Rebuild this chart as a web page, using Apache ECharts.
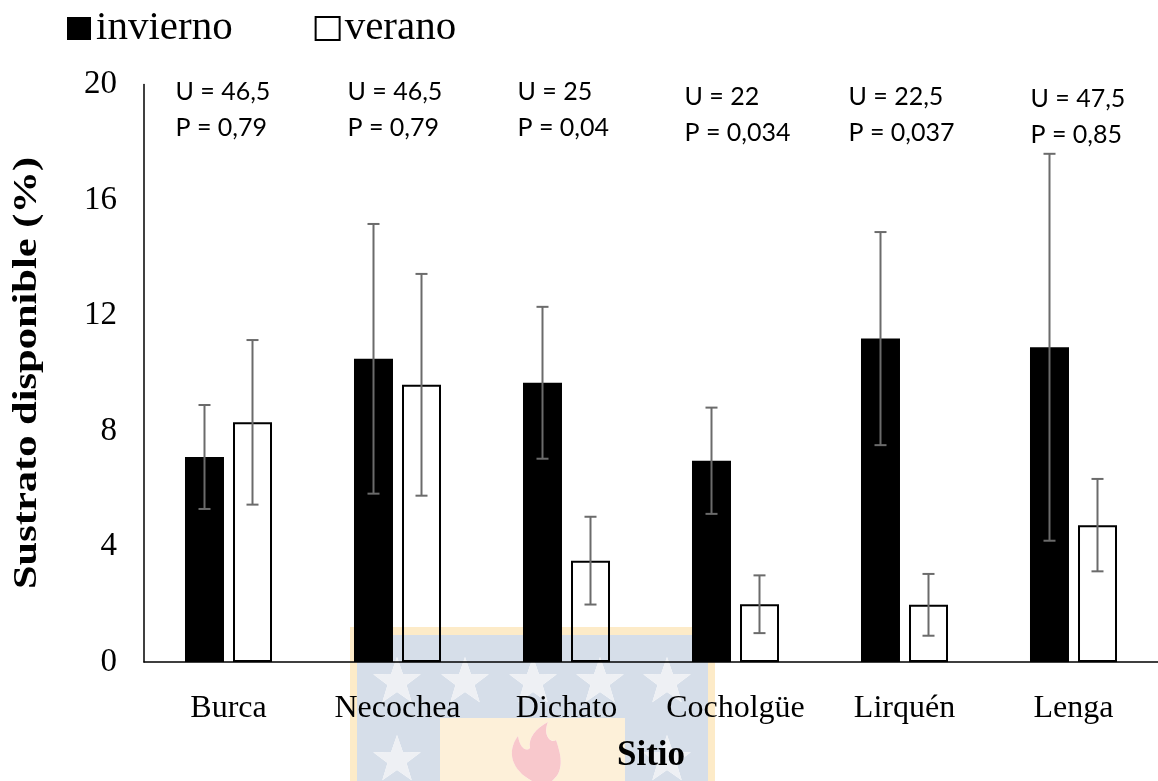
<!DOCTYPE html>
<html>
<head>
<meta charset="utf-8">
<script src="https://cdn.jsdelivr.net/npm/echarts@6/dist/echarts.min.js"></script>
<style>
  html, body { margin: 0; padding: 0; background: #fff; }
  #chart { width: 1158px; height: 781px; }
</style>
</head>
<body>
<div id="chart"></div>
<script>
// Sites and available substrate (%) per season: mean and error
const sites = ['Burca', 'Necochea', 'Dichato', 'Cocholgüe', 'Lirquén', 'Lenga'];
const winterMean = [7.1, 10.5, 9.67, 6.97, 11.2, 10.9];
const winterErr  = [1.8, 4.67, 2.63, 1.84, 3.69, 6.7];
const summerMean = [8.3, 9.6, 3.51, 2.0, 1.98, 4.74];
const summerErr  = [2.85, 3.84, 1.52, 1.0, 1.07, 1.6];

// Mann-Whitney results per site
const uValues = ['46,5', '46,5', '25', '22', '22,5', '47,5'];
const pValues = ['0,79', '0,79', '0,04', '0,034', '0,037', '0,85'];

// Y axis ticks
const yTicks = [0, 4, 8, 12, 16, 20];

// Layout constants
const BAR_W = 39;
const BAR_GAP = 9;
const HALF_STEP = (BAR_W + BAR_GAP) / 2;
const noteNudge = [[-53, 0], [-50, 0], [-49, 0], [-51, 5], [-56, 5], [-43, 7]];
const SERIF = '"Liberation Serif", "Times New Roman", serif';

const yMin = yTicks[0];
const yMax = yTicks[yTicks.length - 1];
const yStep = yTicks[1] - yTicks[0];

function errorBarSeries(means, errs, dx) {
  return {
    type: 'custom',
    z: 5,
    silent: true,
    data: means.map((m, i) => [i, m, errs[i]]),
    encode: { x: 0, y: 1 },
    renderItem: function (params, api) {
      const i = api.value(0), m = api.value(1), e = api.value(2);
      const top = api.coord([i, m + e]);
      const bot = api.coord([i, m - e]);
      const x = top[0] + dx;
      const st = { stroke: '#6b6b6b', lineWidth: 2 };
      return {
        type: 'group',
        children: [
          { type: 'line', shape: { x1: x, y1: top[1], x2: x, y2: bot[1] }, style: st },
          { type: 'line', shape: { x1: x - 6, y1: top[1], x2: x + 6, y2: top[1] }, style: st },
          { type: 'line', shape: { x1: x - 6, y1: bot[1], x2: x + 6, y2: bot[1] }, style: st }
        ]
      };
    }
  };
}

// Five-pointed star path (clockwise or reversed winding)
function starPath(cx, cy, r, reverse) {
  const pts = [];
  for (let k = 0; k < 10; k++) {
    const rr = k % 2 === 0 ? r : r * 0.4;
    const a = -Math.PI / 2 + k * Math.PI / 5;
    pts.push([cx + rr * Math.cos(a), cy + rr * Math.sin(a)]);
  }
  if (reverse) pts.reverse();
  return 'M' + pts.map(p => p[0].toFixed(1) + ' ' + p[1].toFixed(1)).join(' L') + ' Z';
}
function rectPath(x0, y0, x1, y1, reverse) {
  return reverse
    ? `M${x0} ${y0} L${x0} ${y1} L${x1} ${y1} L${x1} ${y0} Z`
    : `M${x0} ${y0} L${x1} ${y0} L${x1} ${y1} L${x0} ${y1} Z`;
}
const flameCW = 'M532 781 C512 770 506 752 518 736 C520 748 526 752 530 748 C528 738 536 728 548 722 C542 736 552 744 556 740 C560 752 566 770 552 781 Z';
const flameCCW = 'M532 781 L552 781 C566 770 560 752 556 740 C552 744 542 736 548 722 C536 728 528 738 530 748 C526 752 520 748 518 736 C506 752 512 770 532 781 Z';

const starSpots = [[397, 682], [465, 682], [533, 682], [600, 682], [667, 682], [397, 760], [667, 760]];
const blueArea = rectPath(357, 635, 708, 790, false) +
  starSpots.map(s => starPath(s[0], s[1], 25, true)).join(' ') +
  rectPath(440, 718, 625, 790, true);

// Faint crest printed behind the lower middle of the figure
const crestLayers = [
  { d: rectPath(350, 627, 715, 790, false) + rectPath(357, 635, 708, 790, true), fill: '#fdebc8' },
  { d: blueArea, fill: '#d6dee9' },
  { d: starSpots.map(s => starPath(s[0], s[1], 25, false)).join(' '), fill: '#eef0f4' },
  { d: rectPath(440, 718, 625, 790, false) + flameCCW, fill: '#fdf0d9' },
  { d: flameCW, fill: '#f8c8cc' }
];

const chart = echarts.init(document.getElementById('chart'), null, { renderer: 'canvas' });

chart.setOption({
  animation: false,
  grid: { left: 144, right: 0, top: 84.5, bottom: 119 },
  legend: {
    left: 62,
    top: 3,
    itemWidth: 24,
    itemHeight: 23,
    itemGap: 82,
    icon: 'rect',
    data: ['invierno', 'verano'],
    textStyle: { fontFamily: SERIF, fontSize: 41, color: '#000' }
  },
  xAxis: {
    type: 'category',
    data: sites,
    z: 3,
    axisLine: { lineStyle: { color: '#000', width: 1.5 } },
    axisTick: { show: false },
    axisLabel: { fontFamily: SERIF, fontSize: 32, color: '#000', margin: 31, interval: 0 },
    name: 'Sitio',
    nameLocation: 'middle',
    nameGap: 76,
    nameTextStyle: { fontFamily: SERIF, fontSize: 35, fontWeight: 'bold', color: '#000' }
  },
  yAxis: {
    type: 'value',
    min: yMin,
    max: yMax,
    interval: yStep,
    axisLine: { show: true, lineStyle: { color: '#000', width: 1.5 } },
    axisTick: { show: false },
    splitLine: { show: false },
    axisLabel: { fontFamily: SERIF, fontSize: 33, color: '#000', margin: 27 }
  },
  graphic: [
    {
      type: 'text',
      x: 27,
      y: 373,
      rotation: Math.PI / 2,
      scaleX: 1.25,
      style: {
        text: 'Sustrato disponible (%)',
        fontFamily: SERIF,
        fontSize: 34,
        fontWeight: 'bold',
        fill: '#000',
        align: 'center',
        verticalAlign: 'middle'
      }
    }
  ],
  series: [
    {
      type: 'custom',
      coordinateSystem: 'none',
      silent: true,
      z: -10,
      clip: false,
      data: [0],
      renderItem: function () {
        return {
          type: 'group',
          children: crestLayers.map(l => ({
            type: 'path',
            shape: { pathData: l.d },
            style: { fill: l.fill }
          }))
        };
      }
    },
    {
      name: 'invierno',
      type: 'bar',
      data: winterMean,
      barWidth: BAR_W,
      barGap: (BAR_GAP / BAR_W * 100).toFixed(1) + '%',
      itemStyle: { color: '#000' }
    },
    {
      name: 'verano',
      type: 'bar',
      data: summerMean,
      barWidth: BAR_W,
      itemStyle: { color: 'rgba(255,255,255,0)', borderColor: '#000', borderWidth: 2 }
    },
    errorBarSeries(winterMean, winterErr, -HALF_STEP),
    errorBarSeries(summerMean, summerErr, HALF_STEP),
    {
      type: 'custom',
      z: 6,
      silent: true,
      data: sites.map((s, i) => [i, yMax]),
      encode: { x: 0, y: 1 },
      renderItem: function (params, api) {
        const i = params.dataIndex;
        const c = api.coord([api.value(0), api.value(1)]);
        const x = c[0] + noteNudge[i][0];
        const y = c[1] + 7.5 + noteNudge[i][1];
        const ts = { fontFamily: 'Lato, "Open Sans", sans-serif', fontSize: 25, fill: '#000', align: 'left', verticalAlign: 'middle' };
        return {
          type: 'group',
          children: [
            { type: 'text', x: x, y: y, style: Object.assign({ text: 'U = ' + uValues[i] }, ts) },
            { type: 'text', x: x, y: y + 36, style: Object.assign({ text: 'P = ' + pValues[i] }, ts) }
          ]
        };
      }
    }
  ]
});
</script>
</body>
</html>
